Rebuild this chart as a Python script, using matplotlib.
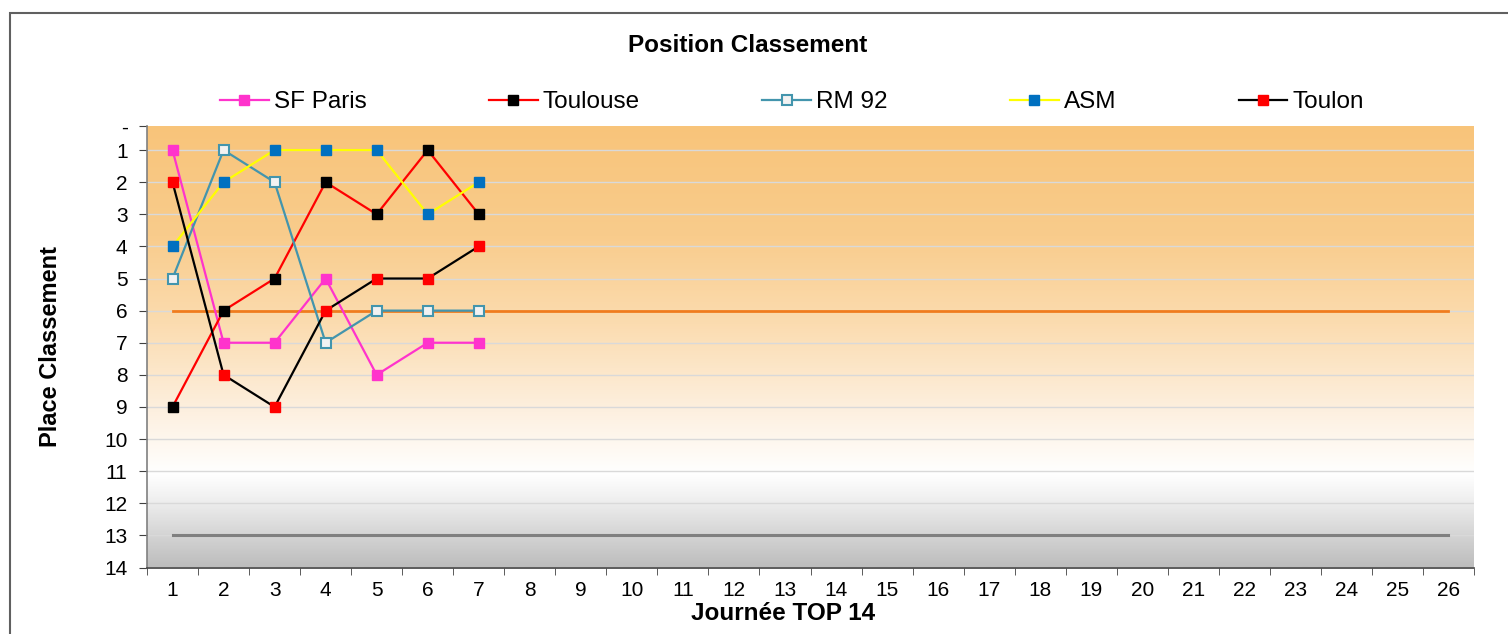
import numpy as np
import matplotlib.pyplot as plt
from matplotlib.colors import LinearSegmentedColormap
from matplotlib.patches import Rectangle

plt.rcParams['font.family'] = ['Liberation Sans', 'DejaVu Sans']

journees = [1, 2, 3, 4, 5, 6, 7]
sf_paris = [1, 7, 7, 5, 8, 7, 7]
toulouse = [9, 6, 5, 2, 3, 1, 3]
rm92 = [5, 1, 2, 7, 6, 6, 6]
asm = [4, 2, 1, 1, 1, 3, 2]
toulon = [2, 8, 9, 6, 5, 5, 4]

n_journees = 26
ligne_haute = 6
ligne_basse = 13
y_top = 0.25

fig = plt.figure(figsize=(15.08, 6.34), dpi=100)
ax = fig.add_axes([147 / 1508, 1 - 567.5 / 634, (1474 - 147) / 1508, (567.5 - 126) / 634])

## background gradient (orange -> white -> grey)
grad = LinearSegmentedColormap.from_list('bg', [
    (0.0, '#f8c47a'),
    (0.25, '#f9cc8c'),
    (0.45, '#fbdcb0'),
    (0.65, '#fdf0e0'),
    (0.79, '#ffffff'),
    (0.84, '#f2f2f2'),
    (1.0, '#bdbdbd'),
])
ax.imshow(np.linspace(0, 1, 256).reshape(-1, 1), cmap=grad, aspect='auto',
          extent=[0.5, n_journees + 0.5, 14, y_top], zorder=0)

ax.set_xlim(0.5, n_journees + 0.5)
ax.set_ylim(14, y_top)

for y in range(1, 14):
    ax.axhline(y, color='#d9d9d9', lw=1, zorder=1)

x_all = np.arange(1, n_journees + 1)
ax.plot(x_all, [ligne_haute] * n_journees, color='#f07c1e', lw=2, zorder=2)
ax.plot(x_all, [ligne_basse] * n_journees, color='#808080', lw=2.2, zorder=2)

ms = 7.2
ax.plot(journees, sf_paris, color='#ff33cc', lw=1.6, marker='s', ms=ms,
        mfc='#ff33cc', mec='#ff33cc', label='SF Paris', zorder=3)
ax.plot(journees, toulouse, color='#ff0000', lw=1.6, marker='s', ms=ms,
        mfc='black', mec='black', label='Toulouse', zorder=3)
ax.plot(journees, rm92, color='#4395ad', lw=1.6, marker='s', ms=ms,
        mfc='#f2f2f2', mec='#4395ad', mew=1.5, label='RM 92', zorder=3)
ax.plot(journees, asm, color='#ffff00', lw=1.6, marker='s', ms=ms,
        mfc='#0070c0', mec='#0070c0', label='ASM', zorder=3)
ax.plot(journees, toulon, color='black', lw=1.6, marker='s', ms=ms,
        mfc='#ff0000', mec='#ff0000', label='Toulon', zorder=3)

## axes styling
ax.spines['top'].set_visible(False)
ax.spines['right'].set_visible(False)
ax.spines['left'].set_color('#808080')
ax.spines['bottom'].set_color('#404040')
ax.spines['left'].set_linewidth(1.2)
ax.spines['bottom'].set_linewidth(1.2)

ax.set_yticks([y_top] + list(range(1, 15)))
ax.set_yticklabels(['-'] + [str(i) for i in range(1, 15)], fontsize=15)
ax.set_xticks(x_all)
ax.set_xticklabels([str(i) for i in x_all], fontsize=15)
ax.set_xticks(np.arange(0.5, n_journees + 1), minor=True)
ax.tick_params(axis='x', which='major', length=0, pad=10)
ax.tick_params(axis='x', which='minor', length=5, color='#404040')
ax.tick_params(axis='y', length=6, color='#404040', pad=8)

ax.set_ylabel('Place Classement', fontsize=17, fontweight='bold')
ax.yaxis.set_label_coords((62 - 147) / 1327, 0.5)

fig.text(783 / 1508, 1 - 614 / 634, 'Journée TOP 14', ha='center', va='center',
         fontsize=17.5, fontweight='bold')
fig.text(748 / 1508, 1 - 45 / 634, 'Position Classement', ha='center', va='center',
         fontsize=17.5, fontweight='bold')

fig.legend(loc='center', bbox_to_anchor=(792 / 1508, 1 - 102 / 634), ncol=5,
           frameon=False, fontsize=17.5, handlelength=2.0, handletextpad=0.2,
           columnspacing=5.05, markerscale=1.0)

## outer frame
fig.patches.append(Rectangle((10 / 1508, -0.05), 1.2, 1 - 13 / 634 + 0.05,
                             transform=fig.transFigure, fill=False,
                             edgecolor='#606060', lw=1.5))

fig.savefig('out.png', dpi=100)
